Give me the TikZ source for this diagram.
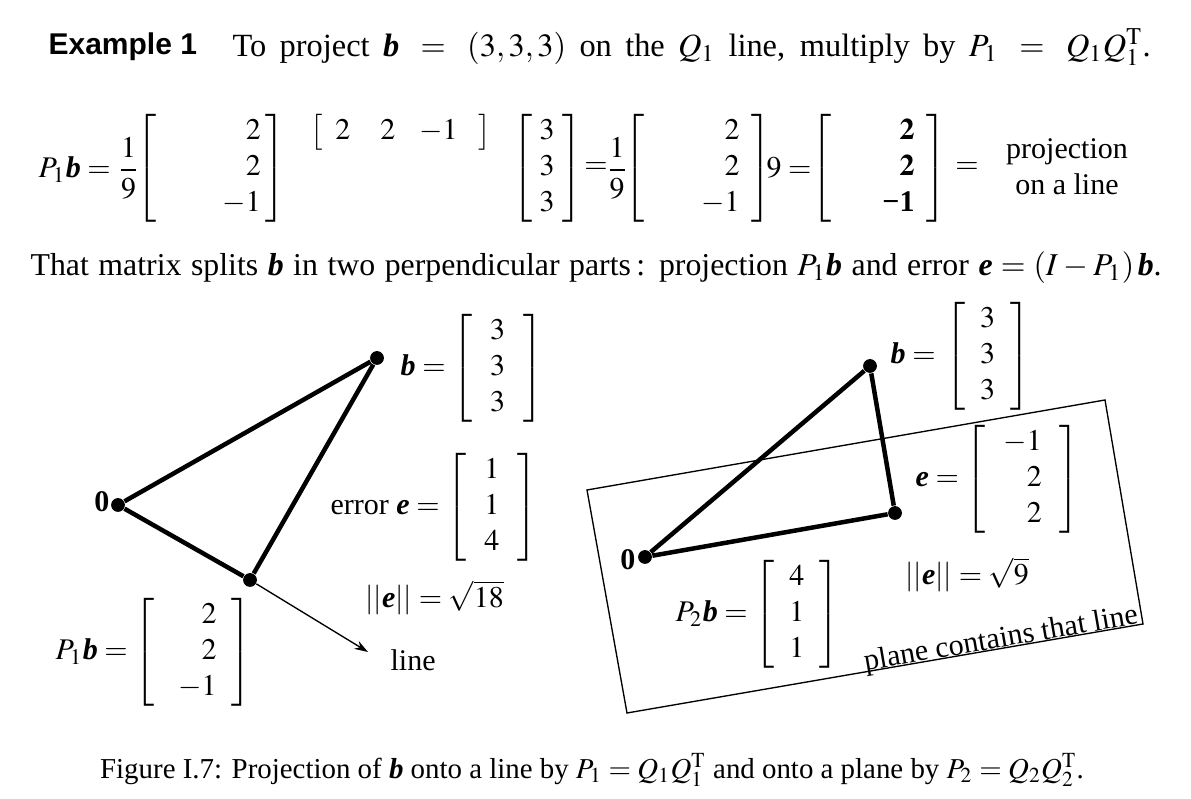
\documentclass[tikz,border=0pt]{standalone}
\usepackage{amsmath}
\usepackage{mathptmx}
\usepackage{fontspec}
\setmainfont{Liberation Serif}
\newfontfamily\exfont{Liberation Sans}
\usetikzlibrary{arrows.meta}
\newcommand\bb{\mbox{\bfseries\itshape b}}
\newcommand\be{\mbox{\bfseries\itshape e}}
\newcommand\cvr[3]{\left[\begin{array}{@{\hspace{#1}}r@{\hspace{#2}}}#3\end{array}\right]}
\newcommand\cvc[3]{\left[\begin{array}{@{\hspace{#1}}c@{\hspace{#2}}}#3\end{array}\right]}
\newcommand\bmin{\mbox{\bfseries\char"2212 1}}
\begin{document}
\begin{tikzpicture}[x=0.33333pt,y=-0.33333pt,
  dotnode/.style={circle,fill=black,inner sep=0pt,minimum size=4.6pt},
  thickedge/.style={line width=1.5pt},
  thinedge/.style={line width=0.45pt},
  lbl/.style={inner sep=0pt}]
\useasboundingbox (0,0) rectangle (1191,799);
% top line
\node[lbl,anchor=west] (ex) at (48,47) {\exfont\bfseries Example 1};
\node[lbl,anchor=west] (intro) at (232,47) {\fontsize{10.8}{13}\selectfont\makebox[306pt][s]{To project $\bb\;=\;(3,3,3)$ on the $Q_1$ line, multiply by $P_1\;=\;Q_1Q_1^{\mathrm T}$.}};
% equation line
\node[lbl,anchor=west] (e1) at (38,168) {$P_1\bb=\dfrac19$};
\node[lbl] (e2) at (211,168) {$\cvr{22pt}{1.5pt}{2\\2\\-1}$};
\node[lbl] (e3) at (401,132) {$\bigl[\hspace{4pt}2\hspace{10pt}2\hspace{8pt}{-1}\hspace{7pt}\bigr]$};
\node[lbl] (e4) at (547,168) {$\cvc{2.5pt}{2.5pt}{3\\3\\3}$};
\node[lbl] (e5a) at (596,168) {$=$};
\node[lbl] (e5b) at (617,168) {$\dfrac19$};
\node[lbl] (e6) at (698,168) {$\cvr{19pt}{4pt}{2\\2\\-1}$};
\node[lbl] (e7) at (789,168) {$9=$};
\node[lbl] (e8) at (879,168) {$\cvr{17pt}{4pt}{\mathbf 2\\\mathbf 2\\\bmin}$};
\node[lbl] (e9) at (967,168) {$=$};
\node[lbl,align=center] (e10) at (1067,167) {projection\\on a line};
% sentence
\node[lbl,anchor=west] (split) at (30,268) {\fontsize{10.6}{12}\selectfont\makebox[377pt][s]{That matrix splits \bb\ in two perpendicular parts\,: projection $P_1\bb$ and error $\be = (I - P_1)\,\bb$.}};
% plane
\coordinate (PL1) at (587,490);
\coordinate (PL2) at (1105,400);
\coordinate (PL3) at (1143,624);
\coordinate (PL4) at (627,713);
\draw[thinedge] (PL1) -- (PL2) -- (PL3) -- (PL4) -- cycle;
% left figure points
\node[dotnode] (O1) at (118,505) {};
\node[dotnode] (B1) at (377,358) {};
\node[dotnode] (P1) at (250,580) {};
\coordinate (L1) at (368,652);
\draw[thickedge] (O1) -- (B1) -- (P1) -- (O1);
\draw[thinedge,-{Stealth[length=4.5pt,width=3pt]}] (P1) -- (L1);
\node[lbl,anchor=east] (O1l) at (110,502) {\textbf{0}};
\node[lbl,anchor=west] (B1l) at (400,368) {$\bb=\cvc{6pt}{6pt}{3\\3\\3}$};
\node[lbl,anchor=west] (E1l) at (330,507) {error $\be=\cvc{6pt}{6pt}{1\\1\\4}$};
\node[lbl,anchor=west] (N1l) at (365,598) {$||\be||=\sqrt{18}$};
\node[lbl,anchor=west] (P1l) at (55,652) {$P_1\bb=\cvr{8pt}{5pt}{2\\2\\-1}$};
\node[lbl,anchor=west] (L1l) at (390,660) {line};
% right figure points
\node[dotnode] (O2) at (645,557) {};
\node[dotnode] (B2) at (870,366) {};
\node[dotnode] (P2) at (895,513) {};
\draw[thickedge] (O2) -- (B2) -- (P2) -- (O2);
\node[lbl,anchor=east] (O2l) at (636,560) {\textbf{0}};
\node[lbl,anchor=west] (B2l) at (890,356) {$\bb=\hspace{1pt}\cvc{5pt}{5pt}{3\\3\\3}$};
\node[lbl,anchor=west] (E2l) at (915,479) {$\be=\cvr{6pt}{6pt}{-1\\2\\2}$};
\node[lbl,anchor=west] (N2l) at (905,575) {$||\be||=\sqrt9$};
\node[lbl,anchor=west] (P2l) at (675,614) {$P_2\bb=\cvc{5pt}{5pt}{4\\1\\1}$};
\node[lbl,rotate=9.8] (PLl) at (1001,640) {plane contains that line};
% caption
\node[lbl] (cap) at (592,770) {\fontsize{9.63}{11.5}\selectfont Figure I.7: Projection of \bb\ onto a line by $P_1=Q_1Q_1^{\mathrm T}$ and onto a plane by $P_2=Q_2Q_2^{\mathrm T}$.};
\end{tikzpicture}
\end{document}
